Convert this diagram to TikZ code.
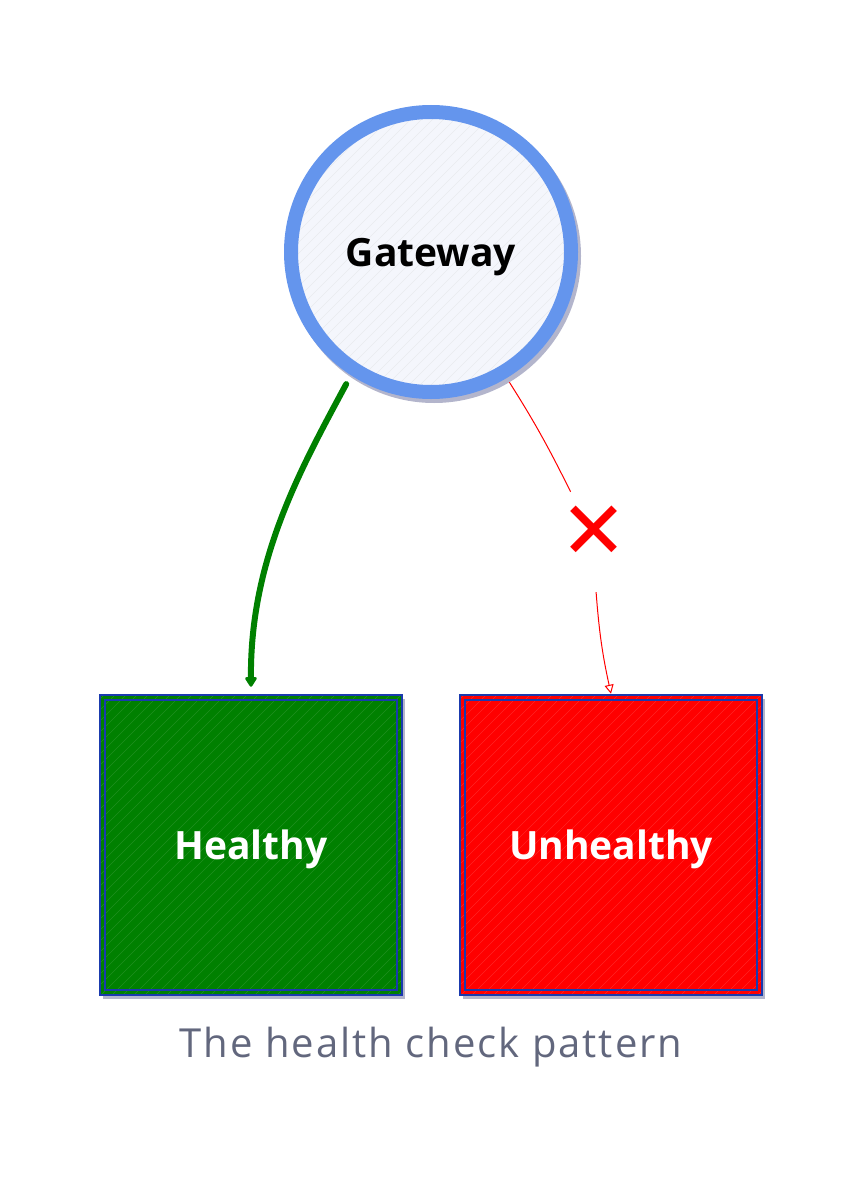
\documentclass[tikz,border=0pt]{standalone}
\usepackage{fontspec}
\setmainfont{Open Sans}
\newfontfamily\symfont{DejaVu Sans}
\usetikzlibrary{arrows.meta}
\definecolor{gwblue}{HTML}{6495ED}
\definecolor{gwfill}{HTML}{F4F6FC}
\definecolor{shadowc}{HTML}{B3B5CC}
\definecolor{okgreen}{HTML}{008000}
\definecolor{badred}{HTML}{FF0000}
\definecolor{edgeblue}{HTML}{1A3AAE}
\definecolor{captgray}{HTML}{62677D}
\tikzset{
  hatching/.style={path picture={
    \foreach \i in {-480,-469,...,200}
      \draw[#1, line width=0.5pt]
        ([xshift=\i pt]path picture bounding box.south) -- ++(340,-340);}},
  gateway/.style={circle, draw=gwblue, line width=14pt, fill=gwfill, minimum size=280pt, inner sep=0pt,
    font=\bfseries\fontsize{39}{46}\selectfont, text=black, text depth=0pt, hatching={black!5!gwfill}},
  statebox/.style={rectangle, draw=edgeblue, line width=2.5pt, minimum width=302pt, minimum height=300pt,
    inner sep=0pt, font=\bfseries\fontsize{39}{46}\selectfont, text=white, text depth=0pt},
  innerline/.style={draw=edgeblue, line width=2pt},
  shadow/.style={fill=shadowc},
  greenarrow/.style={draw=okgreen, line width=6pt, line cap=round,
    -{Triangle[length=11pt,width=13pt,round]}},
  redline/.style={draw=badred, line width=1pt},
  redarrow/.style={redline, -{Triangle[open,length=9pt,width=9pt]}},
  xlabel/.style={text=badred, font=\symfont\bfseries\fontsize{80}{84}\selectfont, minimum width=50pt, minimum height=100pt, inner sep=0pt},
  caption/.style={text=captgray, font=\addfontfeature{LetterSpace=5}\fontsize{40}{46}\selectfont}
}
\begin{document}
\begin{tikzpicture}[x=1pt,y=-1pt]
\useasboundingbox (0,0) rectangle (862,1177);
% shadows
\fill[shadow] (434,256) circle (147);
\fill[shadow] (103,699) rectangle (405,999);
\fill[shadow] (463,699) rectangle (765,999);
% nodes
\node[gateway] (g) at (431,252) {Gateway};
\node[statebox, fill=okgreen, hatching={white!12!okgreen}] (h) at (251,845) {Healthy};
\draw[innerline] ([shift={(6,6)}]h.north west) rectangle ([shift={(-6,-6)}]h.south east);
\node[statebox, fill=badred, hatching={white!14!badred}] (u) at (611,845) {Unhealthy};
\draw[innerline] ([shift={(6,6)}]u.north west) rectangle ([shift={(-6,-6)}]u.south east);
\node[xlabel] (x) at (594,542) {\raisebox{20pt}{✕}};
\node[caption] (cap) at (431,1047) {The health check pattern};
% connectors
\draw[greenarrow, shorten <=10pt] (g.-123) .. controls (300,470) and (250,560) .. ([yshift=7pt]h.north);
\draw[redline, shorten <=5pt] (g.-59) to[bend left=3] (x);
\draw[redarrow] (x) to[bend right=4] (u.north);
\end{tikzpicture}
\end{document}
